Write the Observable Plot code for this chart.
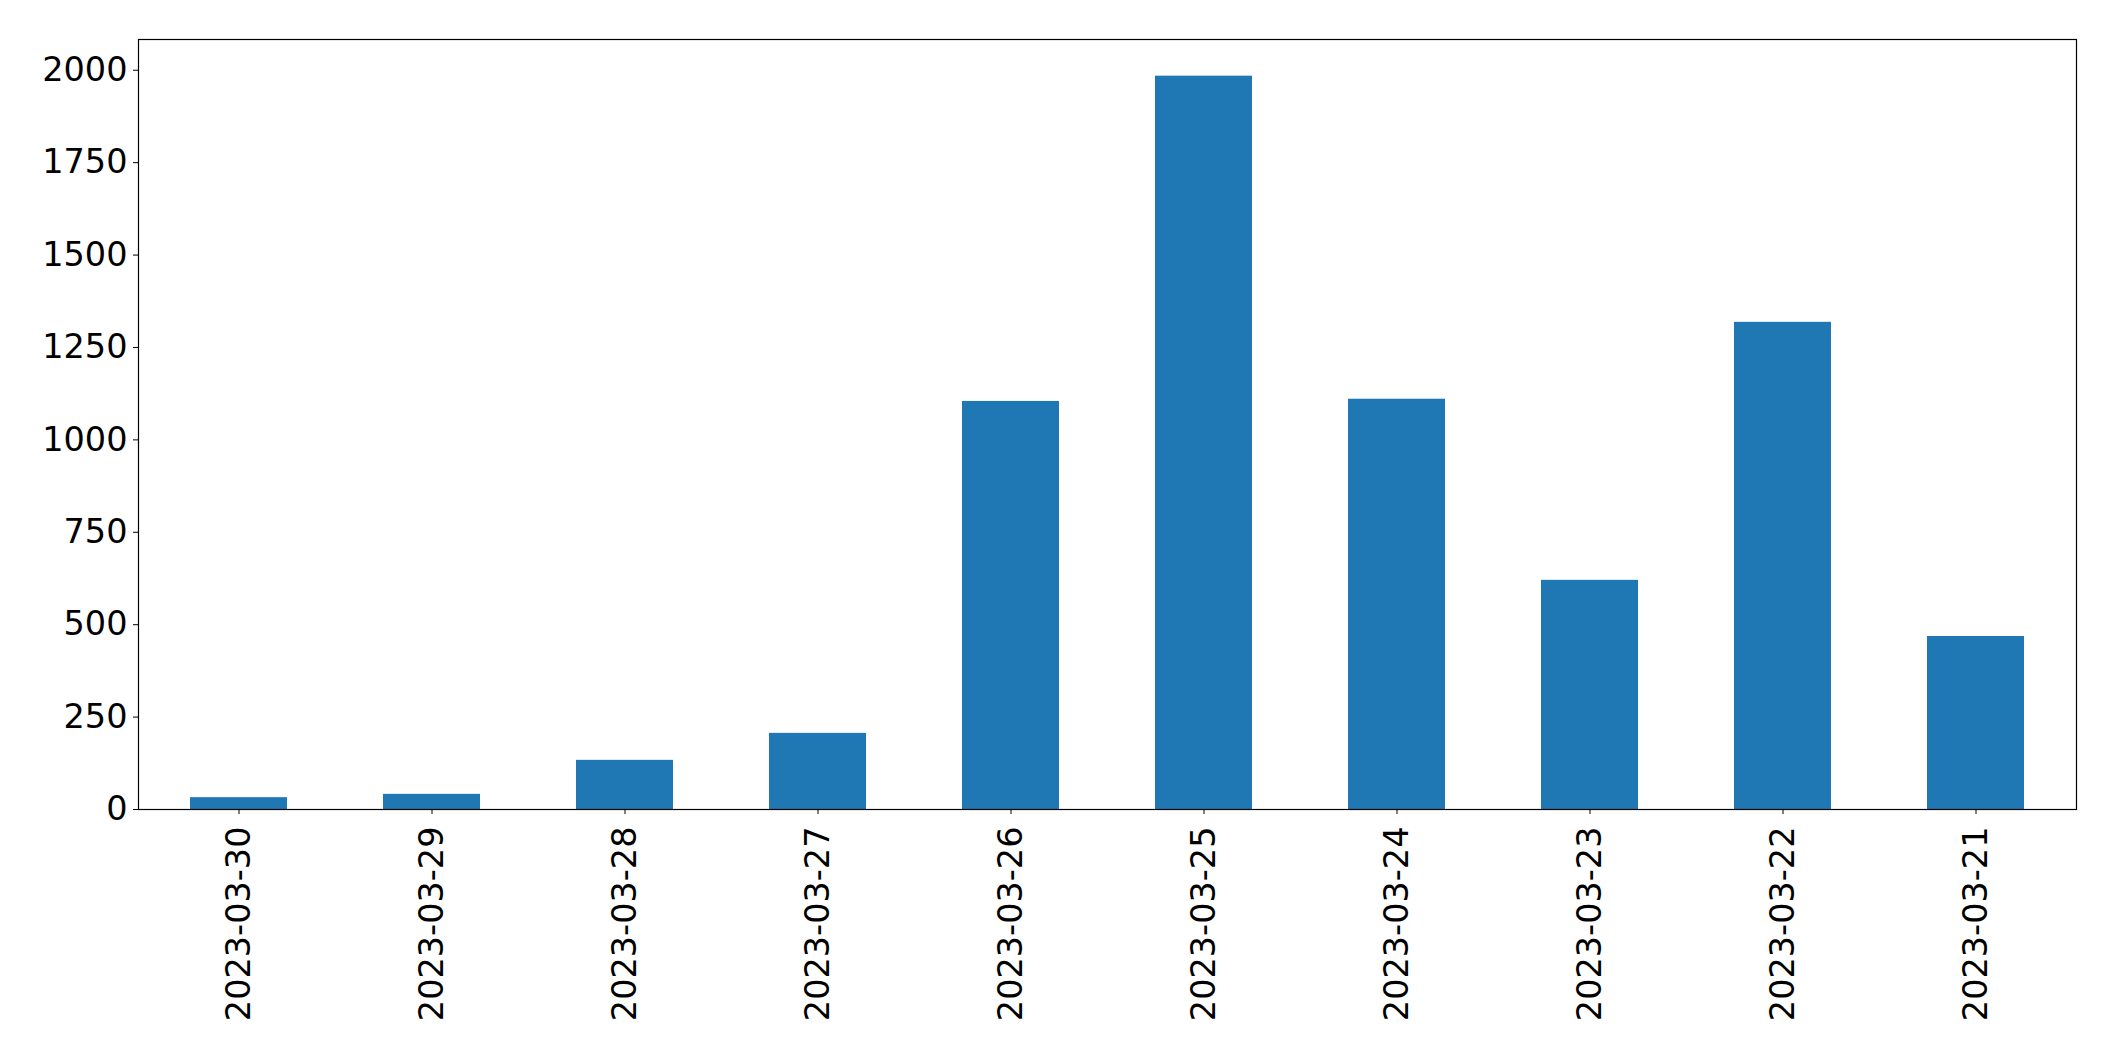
<!DOCTYPE html>
<html>
<head>
<meta charset="utf-8">
<script src="https://cdn.jsdelivr.net/npm/d3@7"></script>
<script src="https://cdn.jsdelivr.net/npm/@observablehq/plot@0.6"></script>
<style>
  html, body { margin: 0; padding: 0; background: #fff; }
  #chart svg { display: block; }
</style>
</head>
<body>
<div id="chart"></div>
<script>
const dates = ["2023-03-30", "2023-03-29", "2023-03-28", "2023-03-27", "2023-03-26",
               "2023-03-25", "2023-03-24", "2023-03-23", "2023-03-22", "2023-03-21"];
const counts = [32, 41, 133, 206, 1104, 1984, 1110, 620, 1318, 468];
const yTicks = [0, 250, 500, 750, 1000, 1250, 1500, 1750, 2000];

const data = dates.map((d, i) => ({date: d, count: counts[i]}));
const yMax = d3.max(counts) * 1.05;

const chart = Plot.plot({
  width: 2115,
  height: 1061,
  marginLeft: 138,
  marginRight: 39,
  marginTop: 39,
  marginBottom: 252,
  style: {fontFamily: "DejaVu Sans", fontSize: "33.5px", color: "#000", background: "#fff"},
  x: {type: "band", domain: dates, paddingInner: 0.5, paddingOuter: 0.25},
  y: {domain: [0, yMax]},
  marks: [
    Plot.barY(data, {x: "date", y: "count", fill: "#1f77b4"}),
    Plot.axisY({ticks: yTicks, tickFormat: d3.format("d"), tickSize: 5, tickPadding: 6, label: null, fontSize: 33.5, stroke: "#000", fill: "#000"}),
    Plot.axisX({tickRotate: -90, tickSize: 5, tickPadding: 12, label: null, fontSize: 33.5, stroke: "#000", fill: "#000"}),
    Plot.frame({stroke: "#000", strokeWidth: 1.2})
  ]
});
document.getElementById("chart").appendChild(chart);
</script>
</body>
</html>
